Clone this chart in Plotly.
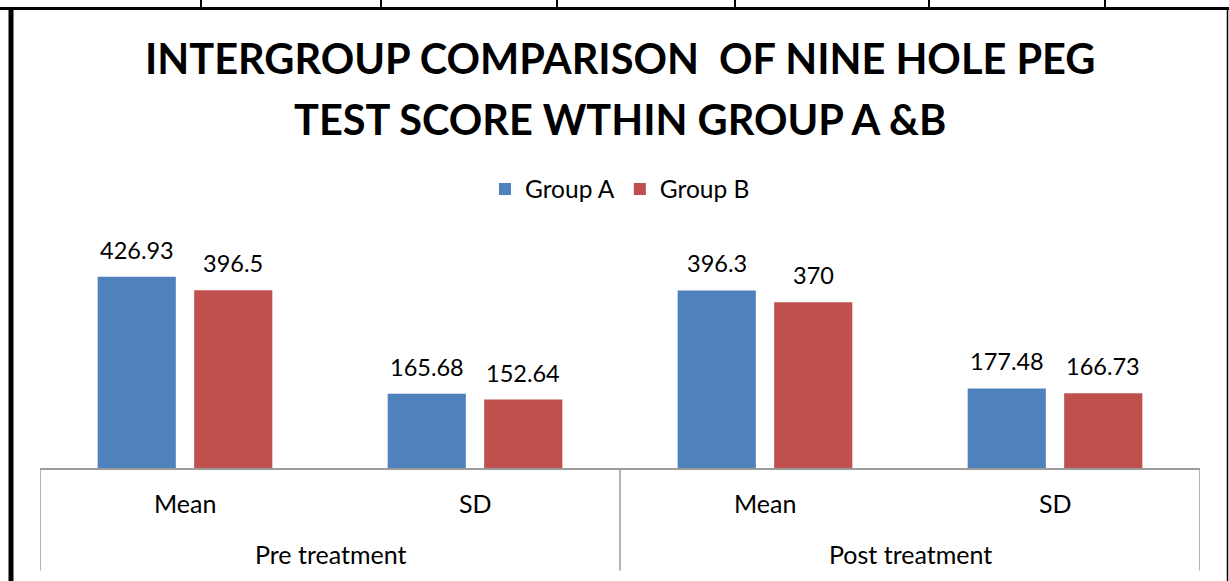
import plotly.graph_objects as go

# ---- data ----
periods = ["Pre treatment", "Post treatment"]
stats = ["Mean", "SD"]
group_a = [426.93, 165.68, 396.3, 177.48]
group_b = [396.5, 152.64, 370, 166.73]
series_names = ["Group A", "Group B"]
title_lines = ["INTERGROUP COMPARISON\u00a0 OF NINE HOLE PEG", "TEST SCORE WTHIN GROUP A &B"]

# ---- layout constants ----
W, H = 1229, 581
ML, MR, MT, MB = 40, 29, 244, 113
PW, PH = W - ML - MR, H - MT - MB
FONT = "Lato"
COLORS = ["#4F81BD", "#C0504D"]
AXIS_GREY = "#9a9a9a"
BARGAP = 0.3345
BARGROUPGAP = 0.19
YMAX = 500


def px_x(px):
    return (px - ML) / PW


def px_y(py):
    return (H - MB - py) / PH


n_cat = len(periods) * len(stats)
xs = list(range(n_cat))
sub_labels = [s for p in periods for s in stats]

fig = go.Figure()
for name, vals, col in zip(series_names, [group_a, group_b], COLORS):
    fig.add_trace(go.Bar(x=xs, y=vals, name=name, marker=dict(color=col, line=dict(width=0))))

annotations = []
# data labels
slot = (1 - BARGAP) / len(series_names)
for k, vals in enumerate([group_a, group_b]):
    off = (k - (len(series_names) - 1) / 2) * slot
    for i, v in enumerate(vals):
        annotations.append(dict(x=i + off, y=v, xref="x", yref="y", text=f"{v:g}",
                                showarrow=False, yanchor="bottom", yshift=11,
                                font=dict(family=FONT, size=23.5, color="black")))
# category labels
for i, lab in enumerate(sub_labels):
    annotations.append(dict(x=i, y=px_y(503), xref="x", yref="paper", text=lab,
                            showarrow=False, yanchor="middle",
                            font=dict(family=FONT, size=25, color="black")))
for j, p in enumerate(periods):
    cx = j * len(stats) + (len(stats) - 1) / 2
    annotations.append(dict(x=cx, y=px_y(554), xref="x", yref="paper", text=p,
                            showarrow=False, yanchor="middle",
                            font=dict(family=FONT, size=25, color="black")))
# title
for t, cy in zip(title_lines, [58, 119]):
    annotations.append(dict(x=0.5, y=px_y(cy), xref="paper", yref="paper", text=f"<b>{t}</b>",
                            showarrow=False, yanchor="middle", xanchor="center",
                            font=dict(family=FONT, size=41.5, color="black")))

shapes = []
# multi-level axis dividers
for b in range(len(periods) + 1):
    xb = b * len(stats) - 0.5
    shapes.append(dict(type="line", xref="x", yref="paper", x0=xb, x1=xb,
                       y0=0, y1=px_y(570.5), line=dict(color=AXIS_GREY, width=1.5)))
# page/table borders
shapes.append(dict(type="line", xref="paper", yref="paper", x0=px_x(0), x1=px_x(W),
                   y0=px_y(8.5), y1=px_y(8.5), line=dict(color="black", width=3)))
for vx in [201, 381, 557, 735, 929, 1105]:
    shapes.append(dict(type="line", xref="paper", yref="paper", x0=px_x(vx), x1=px_x(vx),
                       y0=px_y(0), y1=px_y(8), line=dict(color="black", width=2)))
shapes.append(dict(type="line", xref="paper", yref="paper", x0=px_x(11), x1=px_x(11),
                   y0=px_y(8), y1=px_y(H), line=dict(color="black", width=5)))
shapes.append(dict(type="line", xref="paper", yref="paper", x0=px_x(1227.5), x1=px_x(1227.5),
                   y0=px_y(8), y1=px_y(H), line=dict(color="black", width=1.5)))

fig.update_layout(
    width=W, height=H,
    margin=dict(l=ML, r=MR, t=MT, b=MB, pad=0),
    paper_bgcolor="white", plot_bgcolor="white",
    barmode="group", bargap=BARGAP, bargroupgap=BARGROUPGAP,
    showlegend=True,
    legend=dict(orientation="h", x=0.5, xanchor="center", y=px_y(189), yanchor="middle",
                font=dict(family=FONT, size=24.5, color="black"), traceorder="normal"),
    xaxis=dict(range=[-0.5, n_cat - 0.5], showticklabels=False, ticks="", showgrid=False,
               zeroline=False, showline=True, linecolor=AXIS_GREY, linewidth=1.5, fixedrange=True),
    yaxis=dict(range=[0, YMAX], visible=False, fixedrange=True),
    annotations=annotations,
    shapes=shapes,
)

fig.write_html("out.html", config={"displayModeBar": False},
               post_script="document.body.style.margin='0';document.body.style.overflow='hidden';")
